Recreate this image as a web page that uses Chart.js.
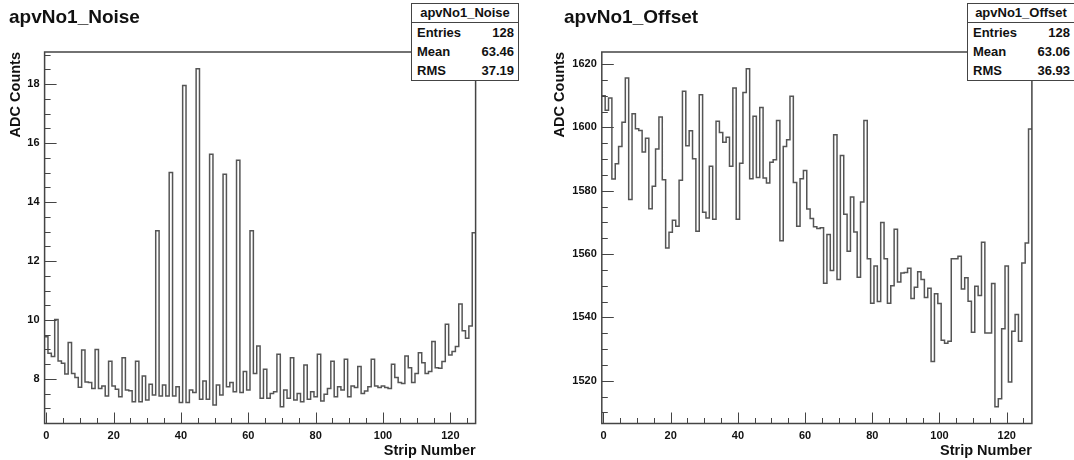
<!DOCTYPE html>
<html>
<head>
<meta charset="utf-8">
<script src="https://cdn.jsdelivr.net/npm/chart.js@4.4.1/dist/chart.umd.min.js"></script>
<style>
  body { margin: 0; background: #fff; }
  #page { position: relative; width: 1074px; height: 460px; overflow: hidden;
          font-family: "Liberation Sans", Arial, sans-serif; color: #111; }
  #page canvas { position: absolute; top: 0; }
  .title { position: absolute; top: 7px; font-size: 19px; line-height: 1; font-weight: bold; }
  .stats { position: absolute; top: 3px; width: 106px; border: 1px solid #444; background: #fff;
           font-size: 13px; font-weight: bold; z-index: 2; }
  .stats .head { text-align: center; border-bottom: 1px solid #444; height: 18px; line-height: 18px; }
  .stats .row { display: flex; justify-content: space-between; padding: 0 4px 0 5px; height: 19px; line-height: 19px; }
</style>
</head>
<body>
<div id="page">
  <canvas id="noise" width="537" height="460" style="left:0"></canvas>
  <canvas id="offset" width="537" height="460" style="left:537px"></canvas>
  <div class="title" style="left:9px">apvNo1_Noise</div>
  <div class="title" style="left:564px">apvNo1_Offset</div>
  <div class="stats" id="noiseStats" style="left:411px"></div>
  <div class="stats" id="offsetStats" style="left:967px"></div>
</div>
<script>
// strip numbers (bin centres) and the two histograms
const stripNumbers = Array.from({ length: 128 }, (_, i) => i);

const noiseValues = [
  9.43, 8.87, 8.76, 10.02, 8.61, 8.53, 8.17, 9.24, 8.19, 8.05,
  7.72, 8.98, 7.9, 7.88, 7.68, 9.0, 7.68, 7.76, 7.42, 8.6,
  7.76, 7.65, 7.4, 8.72, 7.63, 7.6, 7.23, 8.6, 7.23, 8.1,
  7.29, 7.82, 7.46, 13.03, 7.42, 7.8, 7.42, 15.0, 7.42, 7.74,
  7.2, 17.95, 7.2, 7.63, 7.54, 18.52, 7.31, 7.93, 7.31, 15.62,
  7.12, 7.8, 7.46, 14.94, 7.74, 7.88, 7.57, 15.42, 7.54, 8.25,
  7.63, 13.03, 8.19, 9.12, 7.35, 8.33, 7.35, 7.51, 7.57, 8.84,
  7.06, 7.63, 7.35, 8.72, 7.29, 7.51, 7.23, 8.47, 7.31, 7.57,
  7.4, 8.84, 7.25, 7.48, 7.68, 8.6, 7.4, 7.74, 7.63, 8.67,
  7.4, 7.76, 7.71, 8.42, 7.51, 7.59, 7.74, 8.67, 7.76, 7.71,
  7.76, 7.71, 7.68, 8.5, 8.05, 7.88, 7.85, 8.78, 8.38, 7.88,
  8.19, 8.89, 8.55, 8.19, 8.25, 9.27, 8.38, 8.36, 8.59, 9.86,
  8.81, 8.93, 9.1, 10.54, 9.64, 9.38, 9.8, 12.96
];

const offsetValues = [
  1610, 1605.4, 1609.3, 1583.7, 1588.5, 1594, 1601.6, 1615.6, 1577.2, 1604.3,
  1599.6, 1599, 1592.2, 1596.6, 1574.3, 1581.4, 1593.2, 1603.3, 1583.5, 1561.9,
  1566.9, 1570.7, 1568.8, 1583.3, 1611.4, 1594.2, 1598.9, 1590.1, 1567.2, 1610.3,
  1573.2, 1571.4, 1587.7, 1571, 1601.9, 1598.4, 1595.3, 1596.9, 1587.7, 1612.4,
  1571, 1588.7, 1611, 1618.5, 1583.8, 1603.5, 1584.2, 1606.3, 1584, 1582.4,
  1589, 1589.8, 1602.2, 1564.2, 1594, 1596.1, 1609.8, 1582.6, 1568.8, 1583.8,
  1586.4, 1574.2, 1571.2, 1568.6, 1568.1, 1568.3, 1550.8, 1566.2, 1554.8, 1597.7,
  1552, 1591.1, 1572.6, 1560.9, 1578, 1567, 1552.7, 1576.4, 1602.2, 1558.5,
  1544.5, 1556.2, 1545, 1570, 1558.5, 1544.5, 1550, 1567.8, 1551.2, 1554,
  1554.2, 1555.5, 1546, 1549.5, 1554.4, 1552, 1546.3, 1549.2, 1526.1, 1547.5,
  1544.4, 1532.8, 1531.8, 1532.5, 1558.5, 1558.5, 1559.3, 1549, 1552.5, 1545.1,
  1535.3, 1549.8, 1546.9, 1563.7, 1535.1, 1535.1, 1550.7, 1511.8, 1514.3, 1536.4,
  1556.2, 1519.6, 1535.6, 1540.9, 1532.5, 1557.2, 1563.5, 1599.5
];

// axis ticks (labelled) and ranges
const stripTicks = [0, 20, 40, 60, 80, 100, 120];
const noiseTicks = [8, 10, 12, 14, 16, 18];
const offsetTicks = [1520, 1540, 1560, 1580, 1600, 1620];
const noiseRange = [6.49, 19.09];
const offsetRange = [1506.5, 1623.8];

// stats box text
const noiseStats = [['Entries', '128'], ['Mean', '63.46'], ['RMS', '37.19']];
const offsetStats = [['Entries', '128'], ['Mean', '63.06'], ['RMS', '36.93']];

function fillStats(id, name, rows) {
  let html = '<div class="head">' + name + '</div>';
  rows.forEach(r => {
    html += '<div class="row"><span>' + r[0] + '</span><span>' + r[1] + '</span></div>';
  });
  document.getElementById(id).innerHTML = html;
}
fillStats('noiseStats', 'apvNo1_Noise', noiseStats);
fillStats('offsetStats', 'apvNo1_Offset', offsetStats);

// ROOT style: frame box and ticks pointing inwards
const frameTicks = {
  id: 'frameTicks',
  afterDatasetsDraw(chart, args, opts) {
    const { ctx, chartArea: a, scales: { x, y } } = chart;
    ctx.save();
    ctx.strokeStyle = '#444';
    ctx.lineWidth = 1;
    ctx.beginPath();
    function marks(scale, step, major, horizontal, bigLen) {
      const k0 = Math.ceil(scale.min / step - 1e-9);
      const k1 = Math.floor(scale.max / step + 1e-9);
      for (let k = k0; k <= k1; k++) {
        const v = k * step;
        const isMajor = Math.abs(v / major - Math.round(v / major)) < 1e-6;
        const len = isMajor ? bigLen : bigLen / 2;
        const p = Math.round(scale.getPixelForValue(v)) + 0.5;
        if (horizontal) {
          ctx.moveTo(p, a.bottom);
          ctx.lineTo(p, a.bottom - len);
        } else {
          ctx.moveTo(a.left, p);
          ctx.lineTo(a.left + len, p);
        }
      }
    }
    marks(x, opts.xMinor, opts.xMajor, true, 11);
    marks(y, opts.yMinor, opts.yMajor, false, 12);
    ctx.stroke();
    ctx.lineWidth = 1.5;
    ctx.strokeRect(a.left, a.top, a.right - a.left, a.bottom - a.top);
    ctx.restore();
  }
};

function drawHist(canvasId, values, range, yTicks, yMinor, yMajor, axisWidth, rightPad, yTitlePad) {
  // one point per bin left edge, plus the closing edge of the last bin
  const points = values.map((v, i) => ({ x: stripNumbers[i] - 0.5, y: v }));
  points.push({ x: stripNumbers[values.length - 1] + 0.5, y: values[values.length - 1] });

  const tickFont = { family: '"Liberation Sans", Arial, sans-serif', size: 11, weight: 'bold' };
  const titleFont = { family: '"Liberation Sans", Arial, sans-serif', size: 14.5, weight: 'bold' };

  new Chart(document.getElementById(canvasId), {
    type: 'line',
    data: {
      datasets: [{
        data: points,
        stepped: 'before',
        borderColor: '#555',
        borderWidth: 1.5,
        pointRadius: 0,
        fill: false
      }]
    },
    options: {
      responsive: false,
      animation: false,
      events: [],
      layout: { padding: { top: 52, right: rightPad, left: 0, bottom: 0 } },
      plugins: {
        legend: { display: false },
        tooltip: { enabled: false },
        frameTicks: { xMinor: 5, xMajor: 20, yMinor: yMinor, yMajor: yMajor }
      },
      scales: {
        x: {
          type: 'linear',
          min: -0.5,
          max: 127.5,
          afterBuildTicks: s => { s.ticks = stripTicks.map(v => ({ value: v })); },
          afterFit: s => { s.height = 36.5; },
          grid: { display: false, drawTicks: false },
          border: { display: false },
          ticks: { font: tickFont, color: '#111', padding: 6, maxRotation: 0, autoSkip: false,
                   callback: v => String(v) },
          title: { display: true, text: 'Strip Number', align: 'end', font: titleFont,
                   color: '#111', padding: { top: 0, bottom: 0 } }
        },
        y: {
          type: 'linear',
          min: range[0],
          max: range[1],
          afterBuildTicks: s => { s.ticks = yTicks.map(v => ({ value: v })); },
          afterFit: s => { s.width = axisWidth; },
          grid: { display: false, drawTicks: false },
          border: { display: false },
          ticks: { font: tickFont, color: '#111', padding: 5, autoSkip: false,
                   callback: v => String(v) },
          title: { display: true, text: 'ADC Counts', align: 'end', font: titleFont,
                   color: '#111', padding: { top: yTitlePad, bottom: 0 } }
        }
      }
    },
    plugins: [frameTicks]
  });
}

drawHist('noise', noiseValues, noiseRange, noiseTicks, 0.5, 2, 44.6, 61.4, 7);
drawHist('offset', offsetValues, offsetRange, offsetTicks, 5, 20, 64.8, 42.1, 14.5);
</script>
</body>
</html>
